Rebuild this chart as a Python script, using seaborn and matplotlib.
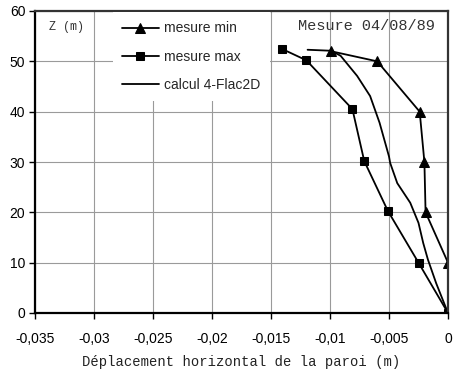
import matplotlib
matplotlib.use("Agg")
import matplotlib.pyplot as plt
import seaborn as sns
import pandas as pd

# ---- data ----
min_x = [-0.0099, -0.0060, -0.0024, -0.0020, -0.0019, 0.0000, 0.0000]
min_z = [52.0, 50.0, 40.0, 30.0, 20.0, 10.0, 0.0]

max_x = [-0.0141, -0.0120, -0.0081, -0.0071, -0.0051, -0.0025, 0.0000]
max_z = [52.5, 50.2, 40.5, 30.2, 20.3, 10.0, 0.0]

calc_x = [-0.0119, -0.0099, -0.0091, -0.0077, -0.0066, -0.0058, -0.0050,
          -0.0049, -0.0043, -0.0032, -0.0025, -0.0021, -0.0017, -0.0010, 0.0000]
calc_z = [52.3, 52.1, 51.1, 47.1, 43.1, 37.8, 31.1,
          29.8, 25.8, 21.9, 17.9, 13.9, 10.6, 5.9, 0.0]

labels = ["mesure min", "mesure max", "calcul 4-Flac2D"]
xticks = [-0.035, -0.03, -0.025, -0.02, -0.015, -0.01, -0.005, 0.0]
xtick_labels = ["-0,035", "-0,03", "-0,025", "-0,02", "-0,015", "-0,01", "-0,005", "0"]
yticks = [0, 10, 20, 30, 40, 50, 60]

df_min = pd.DataFrame({"x": min_x, "z": min_z})
df_max = pd.DataFrame({"x": max_x, "z": max_z})
df_calc = pd.DataFrame({"x": calc_x, "z": calc_z})

sns.set_theme(style="ticks")
plt.rcParams["font.family"] = ["Liberation Sans", "DejaVu Sans"]

fig = plt.figure(figsize=(4.55, 3.75), dpi=100)
ax = fig.add_axes([35 / 455, 1 - 313 / 375, 413 / 455, (313 - 11) / 375])

sns.lineplot(data=df_min, x="x", y="z", sort=False, ax=ax, color="black",
             lw=1.3, marker="^", markersize=6.5, markeredgecolor="black",
             label=labels[0], estimator=None)
sns.lineplot(data=df_max, x="x", y="z", sort=False, ax=ax, color="black",
             lw=1.3, marker="s", markersize=5.5, markeredgecolor="black",
             label=labels[1], estimator=None)
sns.lineplot(data=df_calc, x="x", y="z", sort=False, ax=ax, color="black",
             lw=1.3, label=labels[2], estimator=None)

ax.set_xlim(-0.035, 0)
ax.set_ylim(0, 60)
ax.set_xticks(xticks)
ax.set_xticklabels(xtick_labels)
ax.set_yticks(yticks)
ax.grid(True, color="#9a9a9a", lw=0.8)
ax.set_axisbelow(True)

for s in ["left", "bottom"]:
    ax.spines[s].set_color("black")
    ax.spines[s].set_linewidth(1.6)
for s in ["top", "right"]:
    ax.spines[s].set_visible(True)
    ax.spines[s].set_color("#333333")
    ax.spines[s].set_linewidth(1.6)

ax.tick_params(axis="x", direction="out", length=4, width=1, pad=10,
               labelsize=10, colors="black")
ax.tick_params(axis="y", direction="out", length=4, width=1, pad=3,
               labelsize=10, colors="black")

ax.set_xlabel("Déplacement horizontal de la paroi (m)",
              family=["Liberation Mono", "DejaVu Sans Mono"], fontsize=10,
              labelpad=6, color="#222222")
ax.set_ylabel("")

ax.text(0.033, 0.947, "Z (m)", transform=ax.transAxes,
        family=["Liberation Mono", "DejaVu Sans Mono"], fontsize=8.5,
        va="center", ha="left", color="#333333")
ax.text(0.968, 0.95, "Mesure 04/08/89", transform=ax.transAxes,
        family=["Liberation Mono", "DejaVu Sans Mono"], fontsize=11,
        va="center", ha="right", color="#333333")

leg = ax.legend(loc="upper left", bbox_to_anchor=((112 - 35) / 413, 1.0),
                frameon=True, fancybox=False, framealpha=1, facecolor="white",
                edgecolor="none", fontsize=10, handlelength=2.6,
                handletextpad=0.4, labelspacing=1.02, borderpad=0.7,
                borderaxespad=0.05)

fig.savefig("out.png", dpi=100)
